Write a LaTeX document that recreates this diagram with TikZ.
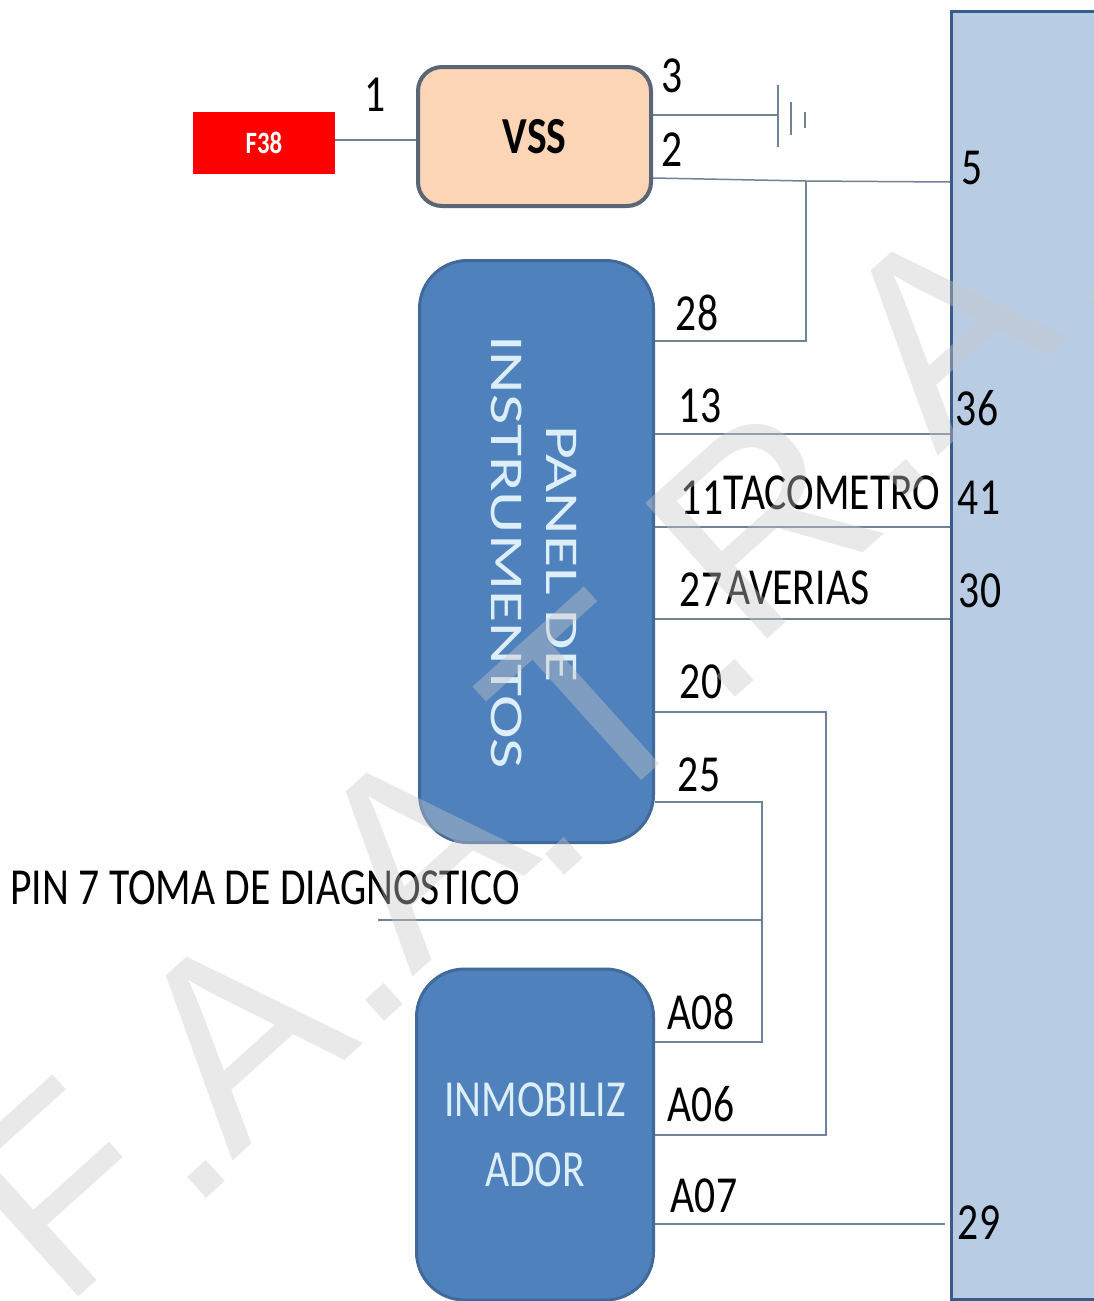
\documentclass[tikz,border=0pt]{standalone}
\usepackage{fontspec}
\setmainfont[FakeStretch=0.8]{Carlito}
\newfontfamily\longfont[FakeStretch=1.4]{Carlito}
\newfontfamily\wmfont{Liberation Sans}
\usetikzlibrary{positioning}
\definecolor{wirecol}{HTML}{6F8296}
\definecolor{vssfill}{HTML}{FBD5B5}
\definecolor{vssline}{HTML}{5A6675}
\definecolor{bluefill}{HTML}{4F81BD}
\definecolor{blueline}{HTML}{41699A}
\definecolor{ecufill}{HTML}{B8CCE4}
\definecolor{eculine}{HTML}{385D8A}
\definecolor{pale}{HTML}{DCEEF8}
\definecolor{wmcol}{HTML}{C8C8C8}

\begin{document}
\begin{tikzpicture}[x=1pt,y=-1pt,
      wire/.style={wirecol,line width=1.5pt},
      pin/.style={inner sep=0pt,font=\fontsize{52}{52}\selectfont},
      blueblock/.style={rectangle,rounded corners=48pt,fill=bluefill,draw=blueline,line width=3pt,inner sep=0pt},
      inlabel/.style={text=pale,inner sep=0pt,font=\fontsize{52}{52}\selectfont},
      sidelabel/.style={text=pale,rotate=-90,inner sep=0pt,font=\longfont\fontsize{47}{47}\selectfont},
      wmark/.style={rotate=42,text=wmcol,text opacity=0.4,inner sep=0pt,font=\wmfont\fontsize{265}{265}\selectfont}
      ]
      \useasboundingbox (0,0) rectangle (1094,1301);
      \fill[white] (0,0) rectangle (1094,1301);
      % blocks
      \node (f38) [rectangle,fill=red,text=white,minimum width=142pt,minimum height=62pt,inner sep=0pt,font=\fontsize{31}{31}\selectfont\bfseries] at (264,143) {F38};
      \node (vss) [rectangle,rounded corners=24pt,fill=vssfill,draw=vssline,line width=4pt,minimum width=233pt,minimum height=139pt,inner sep=0pt,font=\fontsize{52}{52}\selectfont\bfseries] at (534.5,136.5) {VSS};
      \node (panel) [blueblock,minimum width=234pt,minimum height=582pt] at (536.5,551.5) {};
      \node (inmo) [blueblock,minimum width=237pt,minimum height=331pt] at (535,1134.5) {};
      \node (ecu) [rectangle,fill=ecufill,draw=eculine,line width=3pt,minimum width=170pt,minimum height=1288pt,inner sep=0pt,anchor=north west] at (950,10) {};
      \node (panelA) [sidelabel] at (562,554) {PANEL DE};
      \node (panelB) [sidelabel] at (507,552) {INSTRUMENTOS};
      \node (inmoA) [inlabel] at (535,1100) {INMOBILIZ};
      \node (inmoB) [inlabel] at (535,1170) {ADOR};
      % ground
      \coordinate (g1) at (778,115);
      \draw[wire] (g1) ++(0,-30) -- ++(0,62);
      \draw[wire] (791,102) -- (791,135);
      \draw[wire] (805,112) -- (805,128);
      % junctions
      \coordinate (j28) at (806,181);
      \coordinate (j25) at (762,920);
      \coordinate (pinend) at (378,920);
      % wires
      \draw[wire] (f38.east |- 0,140) -- (vss.west |- 0,140);
      \draw[wire] (vss.east |- g1) -- (g1);
      \draw[wire] (vss.east |- 0,178) -- (j28) -- (ecu.west |- 0,182);
      \draw[wire] (j28) -- (806,341) -- (panel.east |- 0,341);
      \draw[wire] (panel.east |- 0,434) -- (ecu.west |- 0,434);
      \draw[wire] (panel.east |- 0,527) -- (ecu.west |- 0,527);
      \draw[wire] (panel.east |- 0,619) -- (ecu.west |- 0,619);
      \draw[wire] (panel.east |- 0,712) -- (826,712) -- (826,1135) -- (inmo.east |- 0,1135);
      \draw[wire] (panel.east |- 0,802) -- (762,802) -- (762,1042) -- (inmo.east |- 0,1042);
      \draw[wire] (pinend) -- (j25);
      \draw[wire] (inmo.east |- 0,1224) -- ([xshift=-5pt]ecu.west |- 0,1224);
      % pins
      \node (n1) [pin] at (375,95) {1};
      \node (n3) [pin] at (672,76) {3};
      \node (n2) [pin] at (672,150) {2};
      \node (n5) [pin] at (972,168) {5};
      \node (n28) [pin] at (697,313) {28};
      \node (n13) [pin] at (700,406) {13};
      \node (n11) [pin] at (702,498) {11};
      \node (taco) [pin] at (832,493) {TACOMETRO};
      \node (n36) [pin] at (977,408) {36};
      \node (n41) [pin] at (979,498) {41};
      \node (n27) [pin] at (701,590) {27};
      \node (aver) [pin] at (798,588) {AVERIAS};
      \node (n30) [pin] at (980,591) {30};
      \node (n20) [pin] at (701,682) {20};
      \node (n25) [pin] at (699,775) {25};
      \node (diag) [pin] at (265,888) {PIN 7 TOMA DE DIAGNOSTICO};
      \node (a08) [pin] at (701,1012) {A08};
      \node (a06) [pin] at (701,1104) {A06};
      \node (a07) [pin] at (704,1196) {A07};
      \node (n29) [pin] at (979,1223) {29};
      % watermark
      \node (w1) [wmark] at (62,1190) {F};
      \node (w2) [wmark] at (206,1179) {.};
      \node (w3) [wmark] at (237,1035) {A};
      \node (w4) [wmark] at (384,1002) {.};
      \node (w5) [wmark] at (417,851) {A};
      \node (w6) [wmark] at (564,856) {.};
      \node (w7) [wmark] at (590,705) {T};
      \node (w8) [wmark] at (735,678) {.};
      \node (w9) [wmark] at (762,522) {R};
      \node (w10) [wmark] at (906,478) {.};
      \node (w11) [wmark] at (942,330) {A};
      \node (w12) [wmark] at (1108,305) {.};
    \end{tikzpicture}
\end{document}
